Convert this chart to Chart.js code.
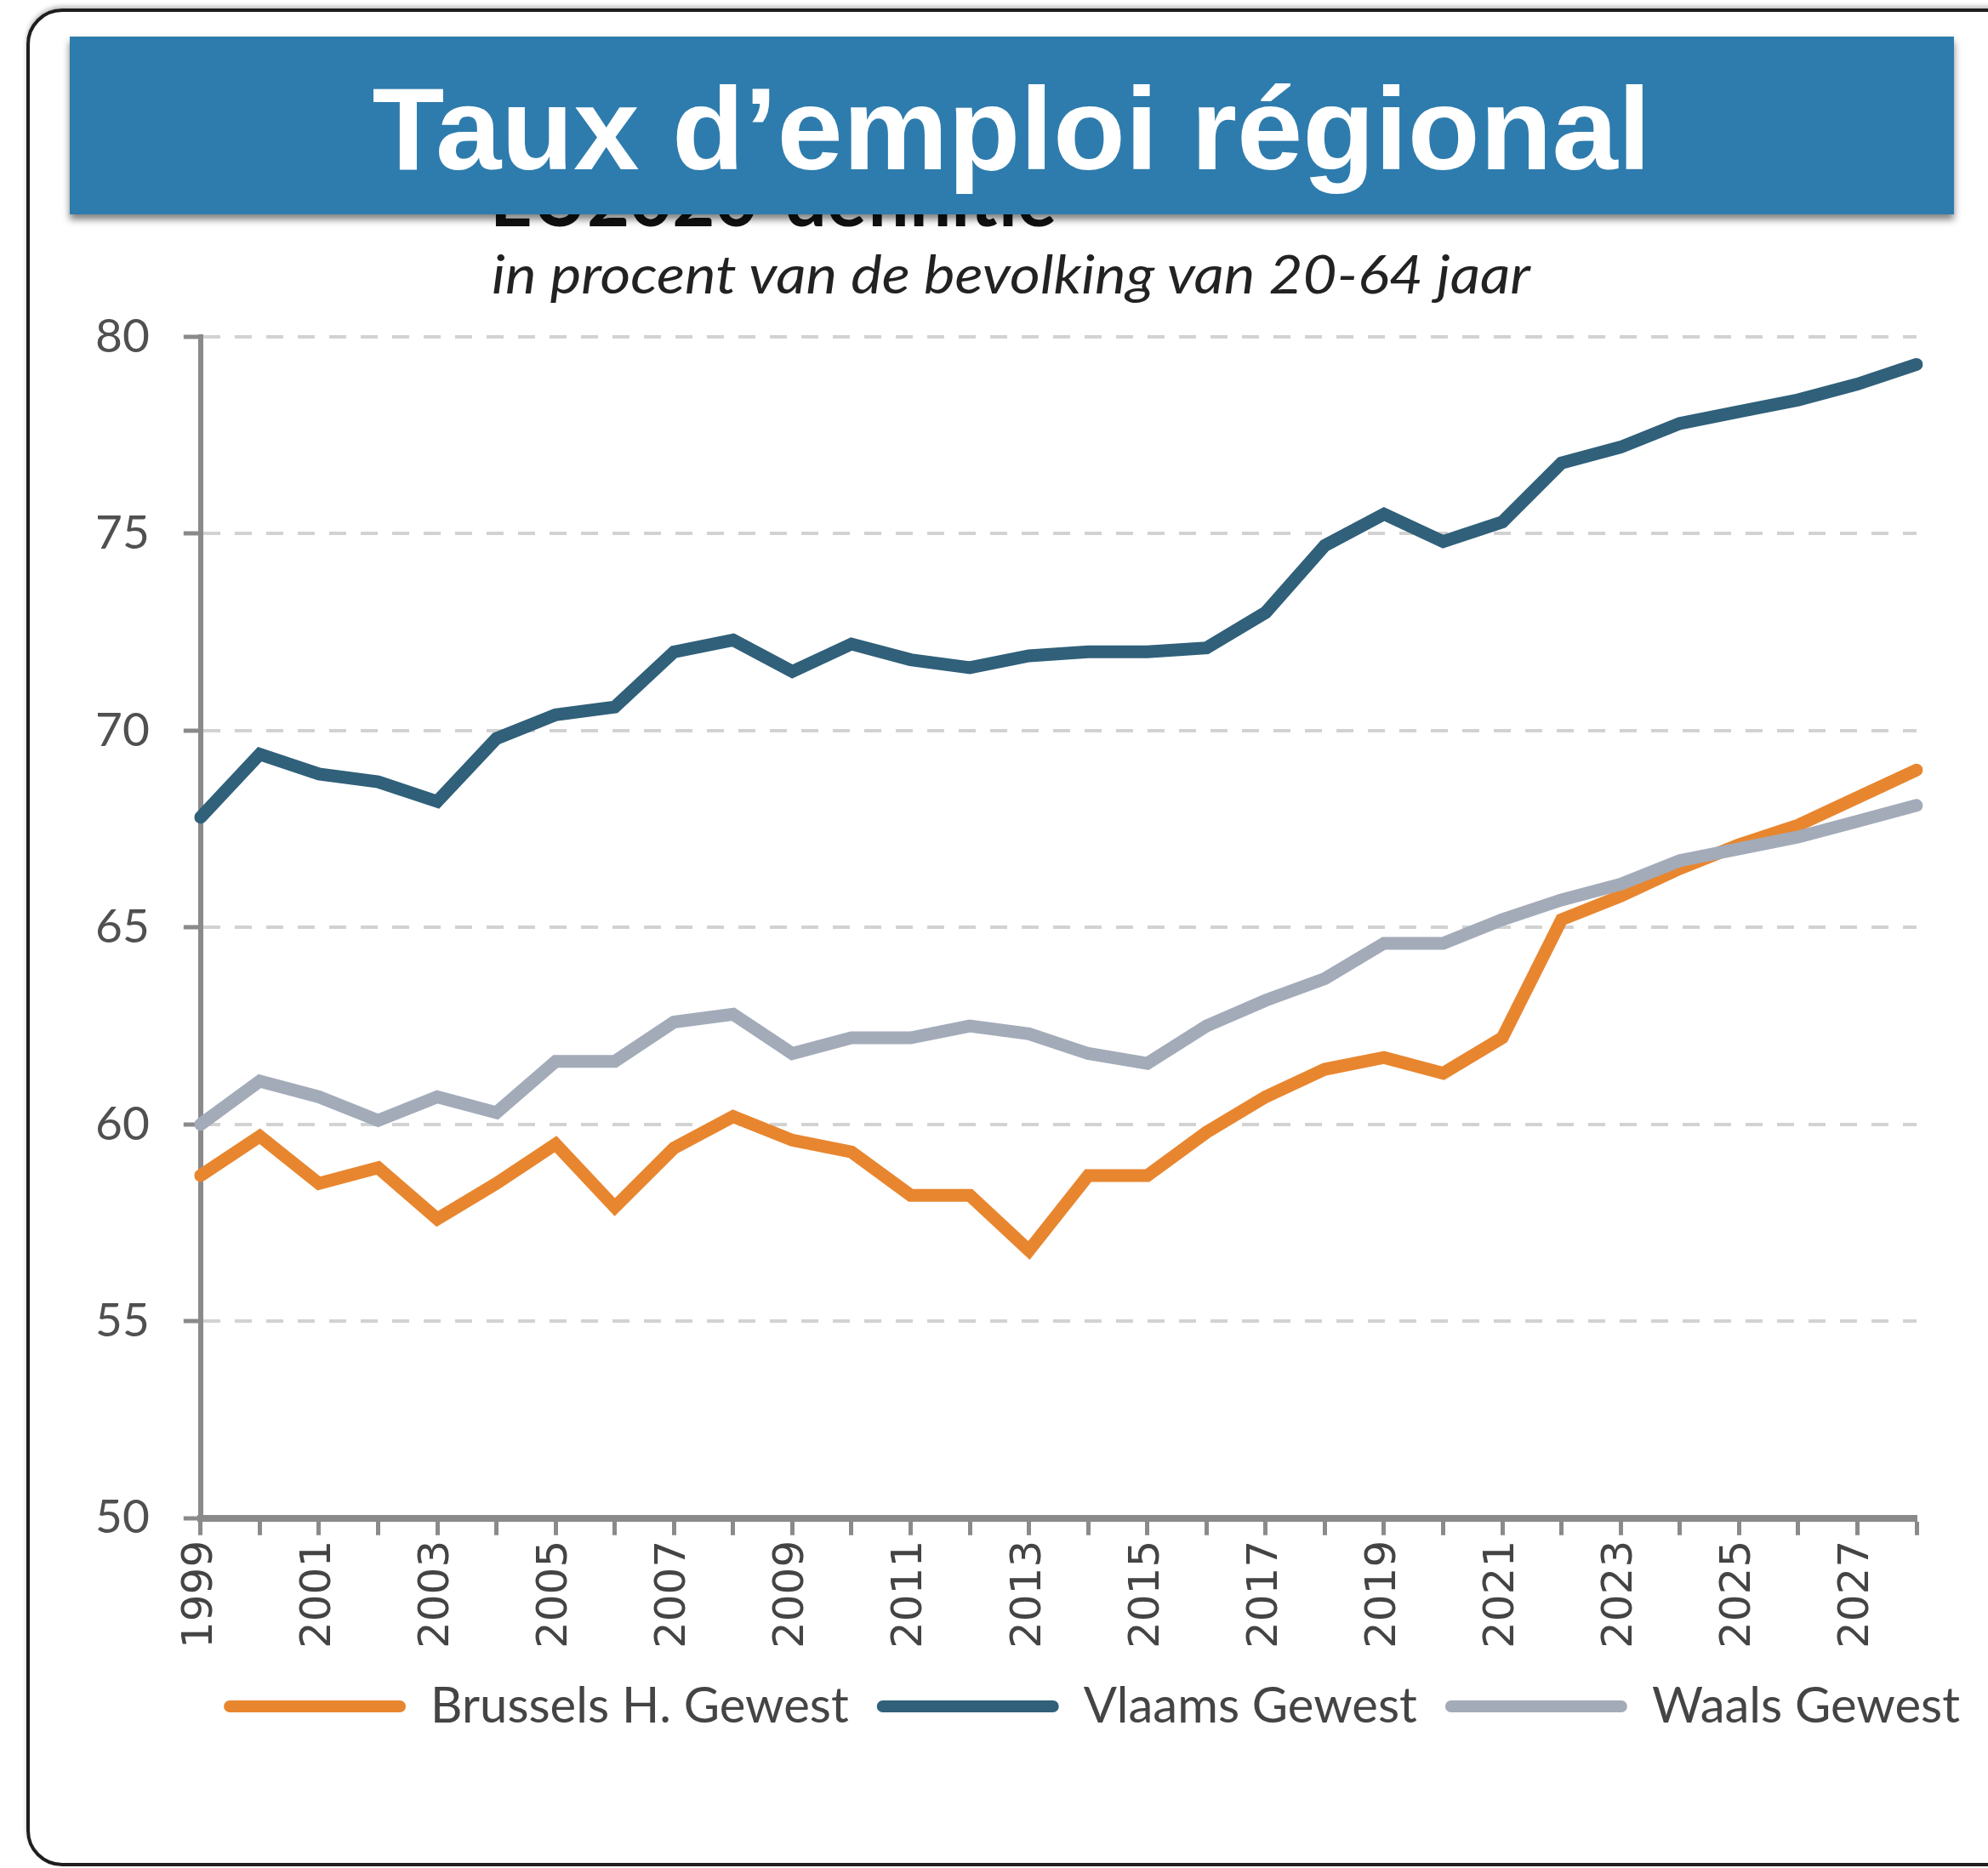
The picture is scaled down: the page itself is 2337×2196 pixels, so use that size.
<!DOCTYPE html>
<html>
<head>
<meta charset="utf-8">
<script src="https://cdn.jsdelivr.net/npm/chart.js@4.4.1/dist/chart.umd.min.js"></script>
<style>
  html, body { margin: 0; padding: 0; width: 2337px; height: 2196px; overflow: hidden; background: #ffffff; }
  #frame { position: absolute; left: 31px; top: 10px; width: 2400px; height: 2176px; border: 4px solid #1e1e1e; border-radius: 42px; box-shadow: 0 -3px 5px rgba(0,0,0,0.25); }
  #head { position: absolute; left: 0; top: 0; }
  #chart { position: absolute; left: 72px; top: 300px; }
</style>
</head>
<body>
<div id="frame"></div>
<svg id="head" width="2337" height="420" xmlns="http://www.w3.org/2000/svg">
  <defs>
    <filter id="sh" x="-5%" y="-20%" width="110%" height="150%">
      <feDropShadow dx="0" dy="6" stdDeviation="4" flood-color="#000" flood-opacity="0.5"/>
    </filter>
  </defs>
  <text x="576" y="266" font-family="Lato" font-weight="700" font-size="86" fill="#111" textLength="666" lengthAdjust="spacingAndGlyphs">EU2020-definitie</text>
  <rect x="82" y="43" width="2215" height="209" fill="#2E7BAD" filter="url(#sh)"/>
  <text x="1189" y="199" text-anchor="middle" font-family="Liberation Sans, Arial, sans-serif" font-weight="700" font-size="138" fill="#ffffff" textLength="1503" lengthAdjust="spacingAndGlyphs">Taux d’emploi régional</text>
  <text x="578" y="345" font-family="Lato" font-style="italic" font-size="62" fill="#222222" textLength="1221" lengthAdjust="spacingAndGlyphs">in procent van de bevolking van 20-64 jaar</text>
</svg>
<canvas id="chart" width="2265" height="1745"></canvas>
<script>
// ---- data ----
const years = ['1999','2000','2001','2002','2003','2004','2005','2006','2007','2008','2009','2010','2011','2012','2013','2014','2015','2016','2017','2018','2019','2020','2021','2022','2023','2024','2025','2026','2027','2028'];
const labeledYears = ['1999','2001','2003','2005','2007','2009','2011','2013','2015','2017','2019','2021','2023','2025','2027'];
const seriesNames = ['Brussels H. Gewest', 'Vlaams Gewest', 'Waals Gewest'];
const brussels = [58.7, 59.7, 58.5, 58.9, 57.6, 58.5, 59.5, 57.9, 59.4, 60.2, 59.6, 59.3, 58.2, 58.2, 56.8, 58.7, 58.7, 59.8, 60.7, 61.4, 61.7, 61.3, 62.2, 65.2, 65.8, 66.5, 67.1, 67.6, 68.3, 69.0];
const vlaams   = [67.8, 69.4, 68.9, 68.7, 68.2, 69.8, 70.4, 70.6, 72.0, 72.3, 71.5, 72.2, 71.8, 71.6, 71.9, 72.0, 72.0, 72.1, 73.0, 74.7, 75.5, 74.8, 75.3, 76.8, 77.2, 77.8, 78.1, 78.4, 78.8, 79.3];
const waals    = [60.0, 61.1, 60.7, 60.1, 60.7, 60.3, 61.6, 61.6, 62.6, 62.8, 61.8, 62.2, 62.2, 62.5, 62.3, 61.8, 61.55, 62.5, 63.15, 63.7, 64.6, 64.6, 65.2, 65.7, 66.1, 66.7, 67.0, 67.3, 67.7, 68.1];
const yTicks = [50, 55, 60, 65, 70, 75, 80];

const colOrange = '#E8862F';
const colBlue = '#30607A';
const colGray = '#A3ABB9';
const axisGray = '#8a8a8a';

const ctx = document.getElementById('chart').getContext('2d');
new Chart(ctx, {
  type: 'line',
  data: {
    labels: years,
    datasets: [
      { label: seriesNames[0], data: brussels, borderColor: colOrange, backgroundColor: colOrange, order: 3 },
      { label: seriesNames[1], data: vlaams, borderColor: colBlue, backgroundColor: colBlue, order: 2 },
      { label: seriesNames[2], data: waals, borderColor: colGray, backgroundColor: colGray, order: 1 }
    ]
  },
  options: {
    responsive: false,
    animation: false,
    devicePixelRatio: 1,
    layout: { padding: { top: 96, left: 0, right: 0, bottom: 0 } },
    elements: {
      line: { borderWidth: 15, tension: 0, borderCapStyle: 'round', borderJoinStyle: 'miter', fill: false },
      point: { radius: 0, hoverRadius: 0 }
    },
    plugins: {
      tooltip: { enabled: false },
      legend: {
        position: 'bottom',
        align: 'end',
        labels: {
          boxWidth: 214,
          boxHeight: 14,
          padding: 33,
          color: '#444444',
          font: { family: 'Lato', size: 58 },
          sort: (a, b) => a.datasetIndex - b.datasetIndex,
          generateLabels: (chart) => {
            const items = Chart.defaults.plugins.legend.labels.generateLabels(chart);
            items.forEach(it => {
              const ds = chart.data.datasets[it.datasetIndex];
              it.lineWidth = 0;
              it.fillStyle = ds.borderColor;
              it.borderRadius = 7;
            });
            return items;
          }
        }
      }
    },
    scales: {
      x: {
        type: 'category',
        offset: false,
        grid: { display: true, drawOnChartArea: false, drawTicks: true, tickLength: 20, tickWidth: 5, tickColor: axisGray },
        border: { display: true, color: axisGray, width: 8 },
        ticks: {
          autoSkip: false,
          minRotation: 90,
          maxRotation: 90,
          padding: 6,
          color: '#444444',
          font: { family: 'DejaVu Sans', size: 50 },
          callback: function(value, index) {
            const lab = this.getLabelForValue(value);
            return labeledYears.includes(lab) ? lab : '';
          }
        }
      },
      y: {
        min: yTicks[0],
        max: yTicks[yTicks.length - 1],
        afterBuildTicks: (scale) => { scale.ticks = yTicks.map(v => ({ value: v })); },
        grid: {
          color: (c) => (c.tick && c.tick.value === 50) ? 'rgba(0,0,0,0)' : '#d2d2d2',
          lineWidth: 4,
          drawTicks: true,
          tickLength: 20,
          tickWidth: 5,
          tickColor: axisGray,
          tickBorderDash: []
        },
        border: { display: true, color: axisGray, width: 6, dash: [20, 17] },
        ticks: {
          padding: 40,
          color: '#505050',
          font: { family: 'Lato', size: 55 }
        }
      },
      yRight: {
        position: 'right',
        display: true,
        min: 50,
        max: 80,
        grid: { display: false, drawTicks: false },
        border: { display: false },
        ticks: { display: false },
        afterFit: (scale) => { scale.width = 84; }
      }
    }
  }
});
</script>
</body>
</html>
